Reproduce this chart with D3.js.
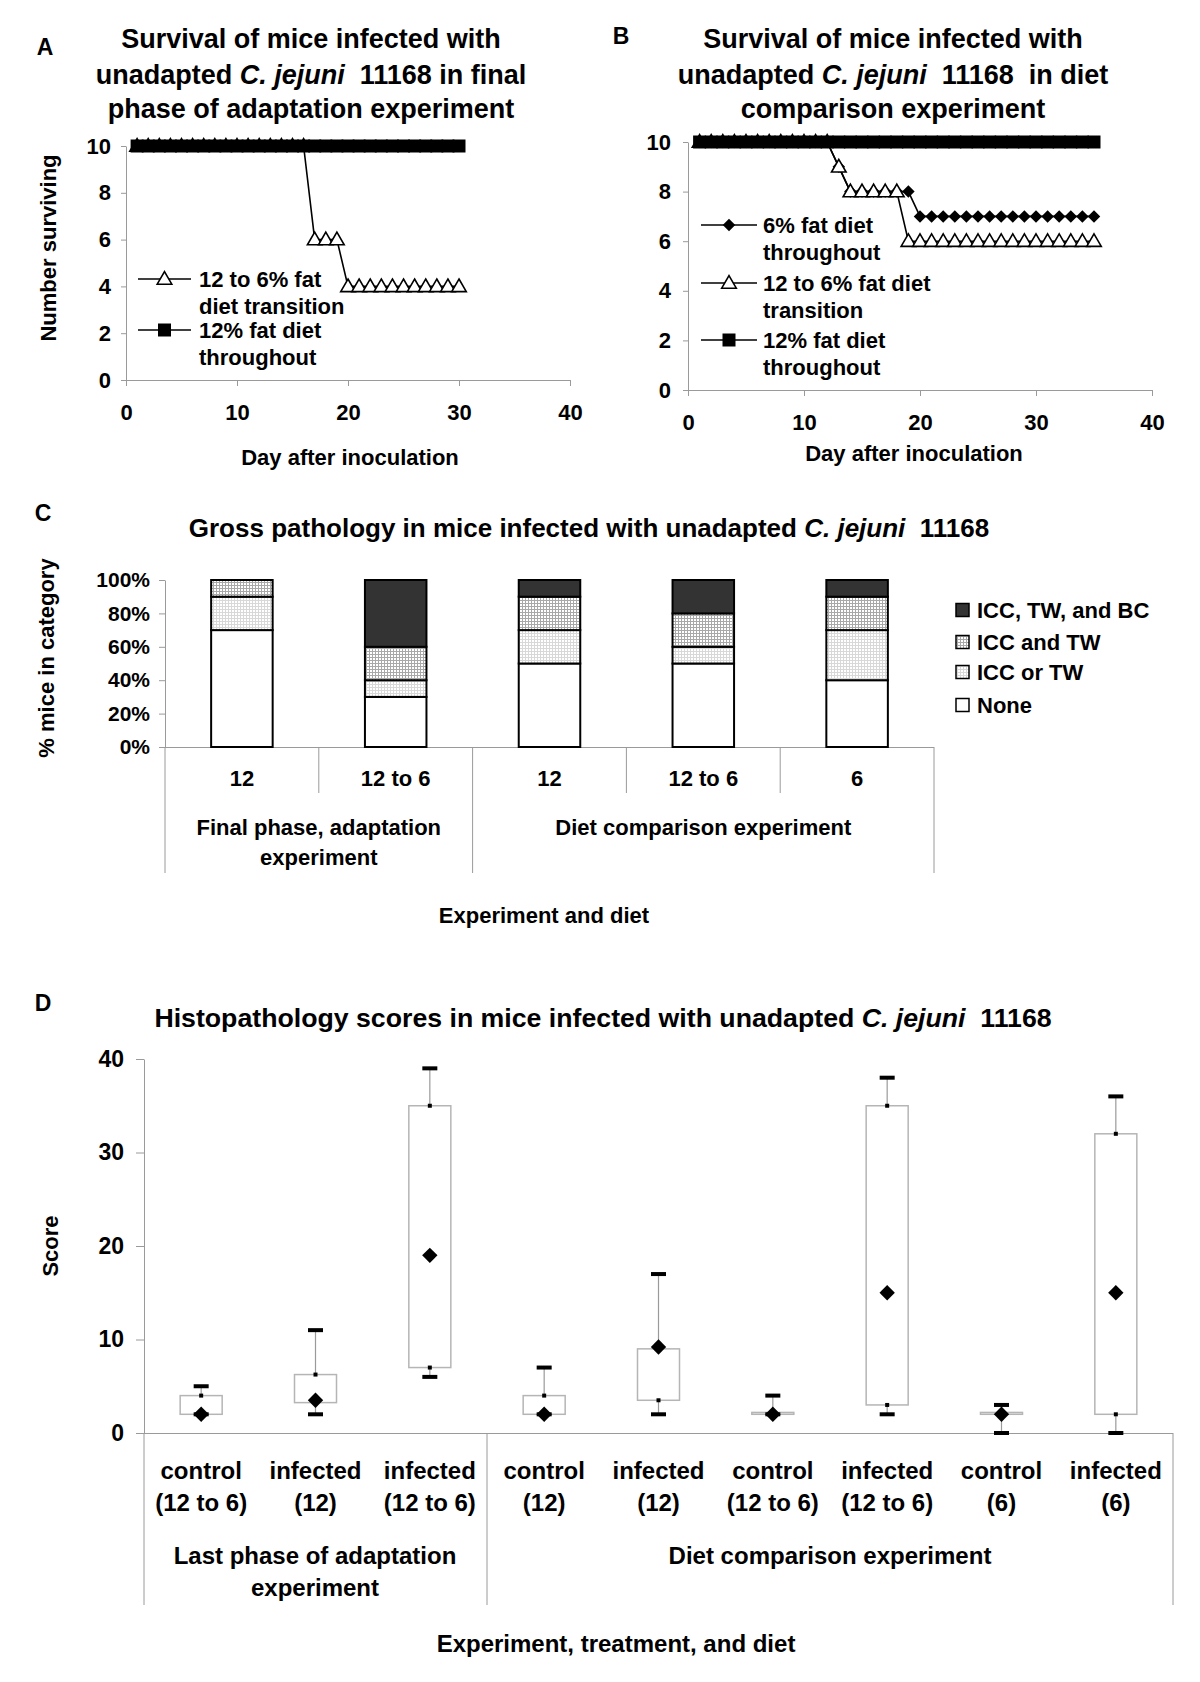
<!DOCTYPE html>
<html><head><meta charset="utf-8">
<script src="https://cdn.jsdelivr.net/npm/d3@7/dist/d3.min.js"></script>
<style>
body{margin:0;background:#fff;}
svg{display:block;font-family:"Liberation Sans",Arial,Helvetica,sans-serif;font-weight:bold;}
text{white-space:pre;fill:#000;}
</style></head><body>
<script>
// ---------- Panel A data ----------
const daysA = [1,2,3,4,5,6,7,8,9,10,11,12,13,14,15,16,17,18,19,20,21,22,23,24,25,26,27,28,29,30];
const a12to6 = [10,10,10,10,10,10,10,10,10,10,10,10,10,10,10,10,6,6,6,4,4,4,4,4,4,4,4,4,4,4];
const a12 = [10,10,10,10,10,10,10,10,10,10,10,10,10,10,10,10,10,10,10,10,10,10,10,10,10,10,10,10,10,10];
const yTicksAB = [0,2,4,6,8,10];
const xTicksAB = [0,10,20,30,40];
// ---------- Panel B data ----------
const daysB = [1,2,3,4,5,6,7,8,9,10,11,12,13,14,15,16,17,18,19,20,21,22,23,24,25,26,27,28,29,30,31,32,33,34,35];
const b6 = [10,10,10,10,10,10,10,10,10,10,10,10,9,8,8,8,8,8,8,7,7,7,7,7,7,7,7,7,7,7,7,7,7,7,7];
const b12to6 = [10,10,10,10,10,10,10,10,10,10,10,10,9,8,8,8,8,8,6,6,6,6,6,6,6,6,6,6,6,6,6,6,6,6,6];
const b12 = [10,10,10,10,10,10,10,10,10,10,10,10,10,10,10,10,10,10,10,10,10,10,10,10,10,10,10,10,10,10,10,10,10,10,10];
// ---------- Panel C data ----------
const catsC = ["12","12 to 6","12","12 to 6","6"];
const groupsC = [["Final phase, adaptation","experiment"],["Diet comparison experiment"]];
const noneC = [70,30,50,50,40];
const iccOrTwC = [20,10,20,10,30];
const iccAndTwC = [10,20,20,20,20];
const bcC = [0,40,10,20,10];
const yTicksC = [0,20,40,60,80,100];
// ---------- Panel D data ----------
const catsD = [["control","(12 to 6)"],["infected","(12)"],["infected","(12 to 6)"],["control","(12)"],["infected","(12)"],["control","(12 to 6)"],["infected","(12 to 6)"],["control","(6)"],["infected","(6)"]];
const groupsD = [["Last phase of adaptation","experiment"],["Diet comparison experiment"]];
const minD = [2,2,6,2,2,2,2,0,0];
const q1D = [2,3.25,7,2,3.5,2,3,2,2];
const medD = [2,3.5,19,2,9.2,2,15,2,15];
const q3D = [4,6.25,35,4,9,2.2,35,2.2,32];
const maxD = [5,11,39,7,17,4,38,3,36];
const yTicksD = [0,10,20,30,40];

const AX = "#9a9a9a";
const svg = d3.select("body").append("svg").attr("width",1200).attr("height",1682);

const defs = svg.append("defs");
function pat(id, col, step){
  const p = defs.append("pattern").attr("id",id).attr("patternUnits","userSpaceOnUse").attr("width",step).attr("height",step);
  p.append("rect").attr("width",step).attr("height",step).attr("fill","#fff");
  p.append("path").attr("d",`M0 0.5H${step}M0.5 0V${step}`).attr("stroke",col).attr("stroke-width",1);
}
pat("pLight","#d8d8d8",3);
pat("pMed","#a8a8a8",3);

function T(parent, x, y, s, size, anchor){
  return parent.append("text").attr("x",x).attr("y",y).attr("font-size",size)
    .attr("text-anchor",anchor||"middle").attr("dominant-baseline","central").text(s);
}
function TS(parent, x, y, segs, size){
  const t = parent.append("text").attr("x",x).attr("y",y).attr("font-size",size)
    .attr("text-anchor","middle").attr("dominant-baseline","central");
  segs.forEach(s=>{ t.append("tspan").attr("font-style",s[1]?"italic":"normal").text(s[0]); });
  return t;
}
function styleAxis(g, size){
  g.select(".domain").attr("stroke",AX);
  g.selectAll(".tick line").attr("stroke",AX);
  g.selectAll("text").attr("font-size",size||21).attr("font-weight","bold").attr("fill","#000")
   .attr("font-family","Liberation Sans, Arial, sans-serif");
}
const triSym = d3.symbol().type(d3.symbolTriangle).size(92);
const sqSym = d3.symbol().type(d3.symbolSquare).size(169);
const diaSym = d3.symbol().type(d3.symbolSquare).size(78);

function series(g, xs, ys, days, vals, kind){
  const line = d3.line().x((d,i)=>xs(days[i])).y(d=>ys(d));
  g.append("path").attr("d",line(vals)).attr("fill","none").attr("stroke","#000").attr("stroke-width",1.6);
  drawMarks(g, days.map((d,i)=>[xs(d), ys(vals[i])]), kind);
}
function drawMarks(g, pts, kind){
  pts.forEach(p=>{
    if(kind==="tri") g.append("path").attr("d",triSym()).attr("transform",`translate(${p[0]},${p[1]+1})`).attr("fill","#fff").attr("stroke","#000").attr("stroke-width",1.6);
    else if(kind==="sq") g.append("path").attr("d",sqSym()).attr("transform",`translate(${p[0]},${p[1]})`).attr("fill","#000");
    else g.append("path").attr("d",diaSym()).attr("transform",`translate(${p[0]},${p[1]}) rotate(45)`).attr("fill","#000");
  });
}
function legendEntry(g, x0, x1, y, kind, lines, tx){
  g.append("line").attr("x1",x0).attr("x2",x1).attr("y1",y).attr("y2",y).attr("stroke","#000").attr("stroke-width",1.6);
  drawMarks(g, [[(x0+x1)/2, y]], kind);
  lines.forEach((l,i)=>T(g, tx, y + i*27, l, 22, "start"));
}

// ================= Panel A =================
{
  const g = svg.append("g");
  const x = d3.scaleLinear().domain([0,40]).range([126,570]);
  const y = d3.scaleLinear().domain([0,10]).range([380,146]);
  T(g, 45, 47, "A", 23);
  TS(g, 311, 39, [["Survival of mice infected with",0]], 27);
  TS(g, 311, 75, [["unadapted ",0],["C. jejuni",1],["  11168 in final",0]], 27);
  TS(g, 311, 109, [["phase of adaptation experiment",0]], 27);
  const gx = g.append("g").attr("transform","translate(0,380)")
    .call(d3.axisBottom(x).tickValues(xTicksAB).tickSize(6).tickSizeOuter(0));
  styleAxis(gx, 22); gx.selectAll("text").attr("y",32).attr("dy","0.35em");
  const gy = g.append("g").attr("transform","translate(126,0)")
    .call(d3.axisLeft(y).tickValues(yTicksAB).tickSize(5).tickPadding(10).tickSizeOuter(0));
  styleAxis(gy, 22);
  T(g, 0, 0, "Number surviving", 22).attr("transform","translate(48,248) rotate(-90)");
  T(g, 350, 457, "Day after inoculation", 22);
  series(g, x, y, daysA, a12to6, "tri");
  series(g, x, y, daysA, a12, "sq");
  legendEntry(g, 138, 191, 279, "tri", ["12 to 6% fat","diet transition"], 199);
  legendEntry(g, 138, 191, 330, "sq", ["12% fat diet","throughout"], 199);
}
// ================= Panel B =================
{
  const g = svg.append("g");
  const x = d3.scaleLinear().domain([0,40]).range([688,1152]);
  const y = d3.scaleLinear().domain([0,10]).range([390,142]);
  T(g, 621, 36, "B", 23);
  TS(g, 893, 39, [["Survival of mice infected with",0]], 27);
  TS(g, 893, 75, [["unadapted ",0],["C. jejuni",1],["  11168  in diet",0]], 27);
  TS(g, 893, 109, [["comparison experiment",0]], 27);
  const gx = g.append("g").attr("transform","translate(0,390)")
    .call(d3.axisBottom(x).tickValues(xTicksAB).tickSize(6).tickSizeOuter(0));
  styleAxis(gx, 22); gx.selectAll("text").attr("y",32).attr("dy","0.35em");
  const gy = g.append("g").attr("transform","translate(688,0)")
    .call(d3.axisLeft(y).tickValues(yTicksAB).tickSize(5).tickPadding(12).tickSizeOuter(0));
  styleAxis(gy, 22);
  T(g, 914, 453, "Day after inoculation", 22);
  series(g, x, y, daysB, b6, "dia");
  series(g, x, y, daysB, b12to6, "tri");
  series(g, x, y, daysB, b12, "sq");
  legendEntry(g, 701, 757, 225, "dia", ["6% fat diet","throughout"], 763);
  legendEntry(g, 701, 757, 283, "tri", ["12 to 6% fat diet","transition"], 763);
  legendEntry(g, 701, 757, 340, "sq", ["12% fat diet","throughout"], 763);
}
// ================= Panel C =================
{
  const g = svg.append("g");
  const x = d3.scaleBand().domain(d3.range(catsC.length)).range([165,934]).paddingInner(0.6).paddingOuter(0.3);
  const y = d3.scaleLinear().domain([0,100]).range([747,580]);
  T(g, 43, 513, "C", 23);
  TS(g, 589, 528, [["Gross pathology in mice infected with unadapted ",0],["C. jejuni",1],["  11168",0]], 26);
  const gy = g.append("g").attr("transform","translate(165,0)")
    .call(d3.axisLeft(y).tickValues(yTicksC).tickFormat(d=>d+"%").tickSize(6).tickPadding(9).tickSizeOuter(0));
  styleAxis(gy, 21);
  g.append("line").attr("x1",165).attr("x2",934).attr("y1",747.5).attr("y2",747.5).attr("stroke",AX);
  T(g, 0, 0, "% mice in category", 22).attr("transform","translate(46,658) rotate(-90)");
  const keys = ["none","iccOrTw","iccAndTw","bc"];
  const fills = {none:"#fff", iccOrTw:"url(#pLight)", iccAndTw:"url(#pMed)", bc:"#333"};
  const table = catsC.map((c,i)=>({i, none:noneC[i], iccOrTw:iccOrTwC[i], iccAndTw:iccAndTwC[i], bc:bcC[i]}));
  const stacked = d3.stack().keys(keys)(table);
  stacked.forEach(layer=>{
    layer.forEach(d=>{
      if(d[1]-d[0] <= 0) return;
      g.append("rect").attr("x",x(d.data.i)).attr("width",x.bandwidth())
        .attr("y",y(d[1])).attr("height",y(d[0])-y(d[1]))
        .attr("fill",fills[layer.key]).attr("stroke","#000").attr("stroke-width",2);
    });
  });
  // category axis
  const step = (934-165)/catsC.length;
  catsC.forEach((c,i)=>T(g, 165+step*(i+0.5), 778, c, 22));
  [1,3,4].forEach(i=>g.append("line").attr("x1",165+step*i).attr("x2",165+step*i).attr("y1",747).attr("y2",793).attr("stroke",AX).attr("stroke-width",1));
  [0,2,5].forEach(i=>g.append("line").attr("x1",165+step*i).attr("x2",165+step*i).attr("y1",747).attr("y2",873).attr("stroke",AX).attr("stroke-width",1));
  T(g, 165+step*1, 827, groupsC[0][0], 22);
  T(g, 165+step*1, 857, groupsC[0][1], 22);
  T(g, 165+step*3.5, 827, groupsC[1][0], 22);
  T(g, 544, 915, "Experiment and diet", 22);
  // legend
  const leg = [["bc","ICC, TW, and BC"],["iccAndTw","ICC and TW"],["iccOrTw","ICC or TW"],["none","None"]];
  const ly = [610,642,672,705];
  leg.forEach((l,i)=>{
    g.append("rect").attr("x",956).attr("y",ly[i]-6.5).attr("width",13).attr("height",13)
      .attr("fill",fills[l[0]]).attr("stroke","#000").attr("stroke-width",1.5);
    T(g, 977, ly[i], l[1], 22, "start");
  });
}
// ================= Panel D =================
{
  const g = svg.append("g");
  const x = d3.scaleBand().domain(d3.range(catsD.length)).range([144,1173]);
  const y = d3.scaleLinear().domain([0,40]).range([1433,1059]);
  T(g, 43, 1003, "D", 23);
  TS(g, 603, 1018, [["Histopathology scores in mice infected with unadapted ",0],["C. jejuni",1],["  11168",0]], 26.7);
  const gy = g.append("g").attr("transform","translate(144,0)")
    .call(d3.axisLeft(y).tickValues(yTicksD).tickSize(8).tickPadding(12).tickSizeOuter(0));
  styleAxis(gy, 23);
  g.append("line").attr("x1",144).attr("x2",1173).attr("y1",1433.5).attr("y2",1433.5).attr("stroke",AX);
  T(g, 0, 0, "Score", 22).attr("transform","translate(50,1246) rotate(-90)");
  const bw = 42;
  catsD.forEach((c,i)=>{
    const cx = x(i) + x.bandwidth()/2;
    // whiskers
    g.append("line").attr("x1",cx).attr("x2",cx).attr("y1",y(q3D[i])).attr("y2",y(maxD[i])).attr("stroke",AX).attr("stroke-width",1.2);
    g.append("line").attr("x1",cx).attr("x2",cx).attr("y1",y(q1D[i])).attr("y2",y(minD[i])).attr("stroke",AX).attr("stroke-width",1.2);
    // box
    g.append("rect").attr("x",cx-bw/2).attr("width",bw).attr("y",y(q3D[i])).attr("height",Math.max(1,y(q1D[i])-y(q3D[i])))
      .attr("fill","#fff").attr("stroke","#b5b5b5").attr("stroke-width",1.5);
    // caps
    [maxD[i],minD[i]].forEach(v=>g.append("rect").attr("x",cx-7.5).attr("width",15).attr("y",y(v)-2).attr("height",4).attr("fill","#000"));
    // quartile dots
    [q1D[i],q3D[i]].forEach(v=>g.append("rect").attr("x",cx-2).attr("width",4).attr("y",y(v)-2).attr("height",4).attr("fill","#000"));
    // median diamond
    g.append("path").attr("d",d3.symbol().type(d3.symbolSquare).size(118)()).attr("transform",`translate(${cx},${y(medD[i])}) rotate(45)`).attr("fill","#000");
    T(g, cx, 1470, c[0], 24);
    T(g, cx, 1502, c[1], 24);
  });
  [144,487,1173].forEach(xx=>g.append("line").attr("x1",xx).attr("x2",xx).attr("y1",1433).attr("y2",1605).attr("stroke",AX));
  T(g, 315, 1555, groupsD[0][0], 24);
  T(g, 315, 1587, groupsD[0][1], 24);
  T(g, 830, 1555, groupsD[1][0], 24);
  T(g, 616, 1643, "Experiment, treatment, and diet", 24);
}
</script>
</body></html>
